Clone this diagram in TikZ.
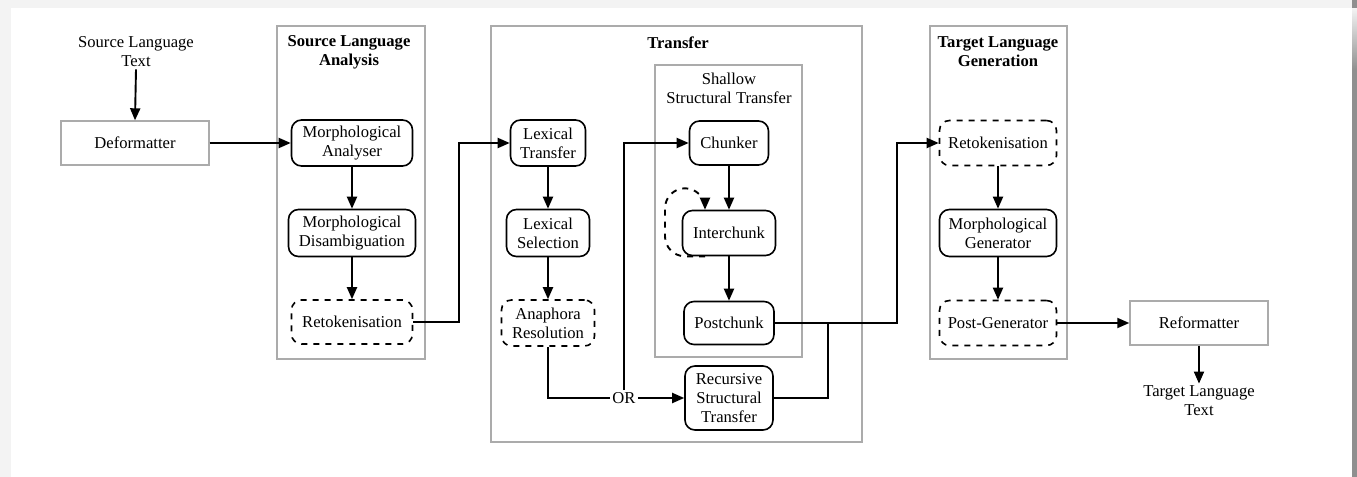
\documentclass[tikz,border=0pt]{standalone}
\usepackage{fontspec}
\IfFontExistsTF{LiberationSerif-Regular.ttf}{%
  \setmainfont{LiberationSerif}[Extension=.ttf,UprightFont=*-Regular,BoldFont=*-Bold,ItalicFont=*-Italic,BoldItalicFont=*-BoldItalic]}{%
  \setmainfont{Liberation Serif}}
\usetikzlibrary{arrows.meta,calc}
\definecolor{pagegray}{HTML}{F3F3F3}
\definecolor{edgegray}{HTML}{8F8F8F}
\definecolor{framegray}{HTML}{ABABAB}
\newcommand{\mytext}{\fontsize{8.3}{9.5}\selectfont}
\tikzset{
  arr/.style={line width=0.95pt,-{Triangle[length=6pt,width=5pt]}},
  plain/.style={line width=0.95pt},
  stage/.style={draw,line width=0.8pt,rounded corners=5pt,align=center,inner sep=1pt,font=\mytext},
  optstage/.style={stage,dashed},
  fmtbox/.style={draw=framegray,line width=0.7pt,align=center,font=\mytext},
  group/.style={draw=framegray,line width=0.7pt},
  grouptitle/.style={align=center,font=\mytext\bfseries},
  label/.style={align=center,font=\mytext,inner sep=1pt},
}
\begin{document}
\begin{tikzpicture}[x=0.5pt,y=-0.5pt]
\useasboundingbox (0,0) rectangle (1357,477);
% page background
\fill[pagegray] (0,0) rectangle (1357,477);
\fill[white] (11,8) rectangle (1352,477);
\fill[edgegray] (1352,0) rectangle (1357,477);
\shade[top color=pagegray,bottom color=edgegray] (1352,8) rectangle (1357,70);

% grouping frames
\draw[group] (277,26) rectangle (425,359);
\draw[group] (491,26) rectangle (862,442);
\draw[group] (655,65) rectangle (802,357);
\draw[group] (930,26) rectangle (1067,359);
\node[grouptitle] (tsla) at (349,52) {Source Language\\Analysis};
\node[grouptitle] (ttr) at (678,43) {Transfer};
\node[label] (tsst) at (729,88) {Shallow\\Structural Transfer};
\node[grouptitle] (ttlg) at (998,52) {Target Language\\Generation};

% input / output
\node[label] (src) at (136,52) {Source Language\\Text};
\node[fmtbox,minimum width=74pt,minimum height=22pt] (deform) at (135,143) {Deformatter};
\node[fmtbox,minimum width=69pt,minimum height=22pt] (reform) at (1199,323) {Reformatter};
\node[label] (tgt) at (1199,401) {Target Language\\Text};

% source language analysis
\node[stage,minimum width=60.5pt,minimum height=23pt] (morphan) at (352,143) {Morphological\\Analyser};
\node[stage,minimum width=63.5pt,minimum height=23.5pt] (morphdis) at (352,233) {Morphological\\Disambiguation};
\node[optstage,minimum width=60.5pt,minimum height=22pt] (retokA) at (352,322) {Retokenisation};

% transfer
\node[stage,minimum width=37.5pt,minimum height=23pt] (lextr) at (548,143) {Lexical\\Transfer};
\node[stage,minimum width=41.5pt,minimum height=23.5pt] (lexsel) at (548,233) {Lexical\\Selection};
\node[optstage,minimum width=46.5pt,minimum height=23pt] (anaph) at (548,323) {Anaphora\\Resolution};
\node[label,fill=white] (or) at (624,398) {OR};
\node[stage,minimum width=39.5pt,minimum height=22pt] (chunker) at (729,143) {Chunker};
\node[stage,minimum width=46.5pt,minimum height=22.5pt] (interchunk) at (729,233) {Interchunk};
\node[stage,minimum width=45pt,minimum height=21.5pt] (postchunk) at (729,323) {Postchunk};
\node[stage,minimum width=44pt,minimum height=32pt] (recursive) at (729,398) {Recursive\\Structural\\Transfer};

% target language generation
\node[optstage,minimum width=58.5pt,minimum height=22.5pt] (retokB) at (998,143) {Retokenisation};
\node[stage,minimum width=58.5pt,minimum height=23.5pt] (morphgen) at (998,233) {Morphological\\Generator};
\node[optstage,minimum width=58.5pt,minimum height=22.5pt] (postgen) at (998,323) {Post-Generator};

% junction points on the way out of transfer
\coordinate (join) at (828,323);
\coordinate (out) at (897,323);

% connectors
\draw[arr] (src.south) -- (deform.north);
\draw[arr] (deform.east) -- (morphan.west);
\draw[arr] (morphan) -- (morphdis);
\draw[arr] (morphdis) -- (retokA);
\draw[arr] (retokA.east) -- ++(46,0) |- (lextr.west);
\draw[arr] (lextr) -- (lexsel);
\draw[arr] (lexsel) -- (anaph);
\draw[plain] (anaph.south) |- (or.west);
\draw[arr] (or.east) -- (recursive.west);
\draw[arr] (or.north) |- (chunker.west);
\draw[arr] (chunker) -- (interchunk);
\draw[arr,dashed,rounded corners=10pt] ($(interchunk.south)+(-24,0)$) -- ++(-40,0) -- ++(0,-68) -- ++(40,0) -- ($(interchunk.north)+(-24,0)$);
\draw[arr] (interchunk) -- (postchunk);
\draw[arr] (postchunk.east) -- (out) |- (retokB.west);
\draw[plain] (recursive.east) -| (join);
\draw[arr] (retokB) -- (morphgen);
\draw[arr] (morphgen) -- (postgen);
\draw[arr] (postgen.east) -- (reform.west);
\draw[arr] (reform.south) -- (tgt.north);
\end{tikzpicture}
\end{document}
